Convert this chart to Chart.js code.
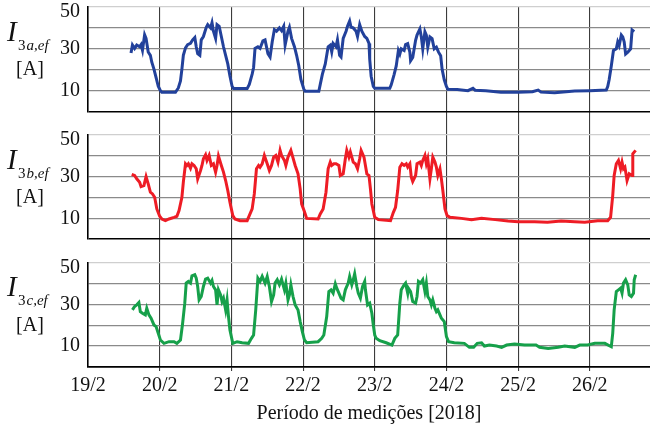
<!DOCTYPE html>
<html>
<head>
<meta charset="utf-8">
<script src="https://cdn.jsdelivr.net/npm/chart.js@4/dist/chart.umd.min.js"></script>
<style>
  html, body { margin: 0; padding: 0; background: #fff; }
  canvas { display: block; }
</style>
</head>
<body>
<canvas id="chart" width="650" height="430"></canvas>
<script>
// day 0 = 19/2
var dayLabels = ['19/2', '20/2', '21/2', '22/2', '23/2', '24/2', '25/2', '26/2'];
var yLabels = [10, 30];
var yTopLabel = 50;
var panelNames = ['3a,ef', '3b,ef', '3c,ef'];

var timeA = [0.60, 0.62, 0.65, 0.68, 0.72, 0.74, 0.76, 0.79, 0.81, 0.84, 0.87, 0.89, 0.92, 0.95, 0.98, 1.01, 1.03, 1.22, 1.26, 1.29,
    1.31, 1.33, 1.36, 1.39, 1.43, 1.46, 1.49, 1.51, 1.53, 1.56, 1.58, 1.61, 1.65, 1.67, 1.71, 1.73, 1.75, 1.78, 1.80, 1.83,
    1.86, 1.89, 1.92, 1.95, 1.98, 2.01, 2.03, 2.22, 2.25, 2.29, 2.31, 2.33, 2.37, 2.40, 2.44, 2.47, 2.51, 2.54, 2.57, 2.60,
    2.63, 2.67, 2.70, 2.73, 2.75, 2.79, 2.81, 2.84, 2.88, 2.91, 2.94, 2.97, 3.01, 3.03, 3.22, 3.24, 3.27, 3.31, 3.35, 3.38,
    3.40, 3.42, 3.46, 3.48, 3.51, 3.53, 3.56, 3.60, 3.62, 3.65, 3.67, 3.70, 3.74, 3.76, 3.79, 3.82, 3.86, 3.89, 3.92, 3.93,
    3.95, 3.98, 4.00, 4.21, 4.23, 4.27, 4.30, 4.33, 4.35, 4.37, 4.41, 4.43, 4.46, 4.49, 4.50, 4.53, 4.57, 4.59, 4.63, 4.65,
    4.67, 4.70, 4.72, 4.74, 4.77, 4.80, 4.83, 4.86, 4.89, 4.92, 4.94, 4.97, 5.00, 5.02, 5.15, 5.30, 5.37, 5.40, 5.55, 5.76,
    6.00, 6.20, 6.28, 6.32, 6.51, 6.79, 7.00, 7.23, 7.25, 7.27, 7.30, 7.33, 7.37, 7.39, 7.41, 7.44, 7.46, 7.48, 7.50, 7.53,
    7.57, 7.59, 7.62];
var curA = [28.0, 31.8, 30.2, 31.8, 31.0, 32.0, 29.3, 36.7, 35.0, 28.5, 26.9, 23.6, 20.3, 16.2, 12.1, 10.0, 9.2, 9.2, 11.3, 14.6,
    20.3, 26.9, 30.5, 32.0, 32.6, 34.3, 35.4, 31.0, 27.7, 26.9, 34.3, 35.9, 40.3, 41.6, 40.0, 42.5, 38.4, 35.0, 41.6, 40.8,
    35.9, 31.0, 26.9, 22.8, 17.0, 12.1, 11.0, 11.0, 13.0, 17.9, 21.1, 30.2, 31.0, 30.2, 33.8, 34.3, 27.7, 26.1, 33.4, 39.2,
    38.4, 40.0, 38.7, 40.8, 31.8, 38.4, 40.3, 35.0, 31.0, 26.9, 22.0, 15.4, 10.8, 9.7, 9.7, 13.0, 17.9, 22.8, 31.0, 31.8,
    28.5, 32.6, 31.0, 34.3, 26.9, 26.1, 35.0, 38.4, 40.8, 43.3, 40.3, 40.0, 38.4, 35.9, 41.6, 38.4, 35.9, 35.0, 32.6, 25.0,
    16.9, 12.0, 11.1, 11.1, 12.8, 17.7, 21.8, 29.2, 27.5, 30.0, 29.2, 32.0, 32.5, 28.4, 24.3, 25.9, 34.1, 36.6, 39.5, 35.7,
    30.0, 38.2, 36.6, 30.8, 35.7, 34.9, 30.0, 30.8, 28.4, 26.7, 20.2, 15.2, 12.0, 10.7, 10.5, 10.0, 11.1, 10.2, 10.0, 9.3,
    9.3, 9.5, 10.3, 9.3, 9.0, 9.8, 10.0, 10.3, 12.0, 15.2, 21.8, 29.2, 30.0, 33.3, 31.6, 36.6, 35.7, 33.3, 27.5, 28.4,
    30.0, 39.0, 38.2];

var timeB = [0.61, 0.65, 0.68, 0.72, 0.74, 0.78, 0.81, 0.84, 0.87, 0.90, 0.93, 0.96, 1.00, 1.03, 1.08, 1.13, 1.20, 1.24, 1.27, 1.31,
    1.33, 1.36, 1.38, 1.40, 1.43, 1.45, 1.48, 1.51, 1.53, 1.57, 1.59, 1.61, 1.64, 1.66, 1.69, 1.72, 1.75, 1.78, 1.80, 1.82,
    1.86, 1.89, 1.92, 1.95, 1.98, 2.02, 2.05, 2.12, 2.22, 2.25, 2.29, 2.32, 2.35, 2.38, 2.40, 2.43, 2.46, 2.50, 2.53, 2.56,
    2.59, 2.62, 2.65, 2.68, 2.70, 2.74, 2.76, 2.79, 2.83, 2.85, 2.89, 2.93, 2.96, 2.98, 3.02, 3.05, 3.21, 3.24, 3.28, 3.32,
    3.35, 3.38, 3.40, 3.43, 3.46, 3.50, 3.52, 3.56, 3.59, 3.61, 3.64, 3.66, 3.70, 3.73, 3.76, 3.79, 3.81, 3.85, 3.89, 3.92,
    3.94, 3.96, 4.00, 4.05, 4.22, 4.26, 4.29, 4.32, 4.35, 4.38, 4.41, 4.44, 4.46, 4.49, 4.51, 4.53, 4.57, 4.59, 4.63, 4.65,
    4.67, 4.70, 4.72, 4.74, 4.77, 4.79, 4.81, 4.84, 4.86, 4.88, 4.91, 4.93, 4.95, 4.98, 5.01, 5.05, 5.21, 5.35, 5.49, 5.68,
    5.86, 6.00, 6.23, 6.41, 6.60, 6.79, 6.93, 7.11, 7.25, 7.29, 7.32, 7.34, 7.37, 7.40, 7.43, 7.45, 7.47, 7.49, 7.52, 7.55,
    7.59, 7.60, 7.64];
var curB = [31.0, 30.5, 28.9, 27.3, 25.2, 25.7, 30.0, 26.5, 22.5, 21.7, 20.1, 14.5, 11.0, 9.7, 8.9, 9.7, 10.5, 11.0, 13.7, 20.1,
    27.3, 36.1, 35.3, 36.1, 34.0, 36.1, 35.3, 33.7, 28.9, 32.9, 35.3, 38.5, 40.4, 37.7, 40.1, 35.3, 36.1, 32.1, 35.3, 39.8,
    35.3, 32.1, 28.1, 23.3, 17.7, 11.3, 9.7, 8.9, 8.9, 11.3, 14.5, 21.7, 33.7, 35.3, 34.5, 36.1, 40.1, 36.1, 32.9, 35.3,
    39.3, 40.1, 36.9, 42.5, 40.1, 37.7, 35.3, 39.3, 42.5, 40.1, 35.3, 31.3, 24.1, 16.9, 13.2, 10.0, 9.7, 12.1, 14.5, 22.5,
    33.7, 36.9, 35.3, 36.1, 36.1, 35.3, 30.5, 31.3, 38.5, 42.5, 39.3, 41.7, 36.9, 36.1, 33.7, 38.5, 42.5, 39.3, 31.3, 30.5,
    24.1, 16.9, 10.5, 9.4, 8.9, 12.9, 15.3, 23.3, 34.5, 36.1, 35.3, 36.1, 34.5, 36.1, 29.7, 27.6, 30.5, 36.1, 36.9, 35.3,
    37.7, 40.1, 36.1, 38.5, 28.9, 33.7, 39.3, 36.9, 34.5, 30.5, 33.7, 28.9, 23.3, 14.5, 11.3, 10.5, 10.0, 9.4, 10.0, 9.4,
    8.7, 8.4, 8.4, 8.1, 8.7, 8.4, 8.1, 8.9, 8.9, 10.5, 20.9, 30.5, 36.1, 37.7, 33.7, 36.9, 33.7, 34.5, 28.1, 31.3,
    30.5, 40.9, 42.5];

var timeC = [0.62, 0.65, 0.68, 0.71, 0.73, 0.76, 0.80, 0.82, 0.85, 0.88, 0.92, 0.95, 0.98, 1.01, 1.06, 1.13, 1.20, 1.24, 1.29, 1.32,
    1.35, 1.37, 1.40, 1.43, 1.45, 1.49, 1.51, 1.53, 1.55, 1.58, 1.61, 1.64, 1.67, 1.71, 1.73, 1.75, 1.78, 1.80, 1.82, 1.85,
    1.87, 1.89, 1.92, 1.94, 1.96, 1.98, 2.02, 2.08, 2.15, 2.24, 2.28, 2.31, 2.34, 2.37, 2.40, 2.43, 2.47, 2.50, 2.53, 2.56,
    2.59, 2.61, 2.64, 2.67, 2.70, 2.74, 2.76, 2.79, 2.81, 2.83, 2.86, 2.89, 2.93, 2.96, 2.99, 3.02, 3.05, 3.21, 3.26, 3.29,
    3.33, 3.36, 3.39, 3.42, 3.45, 3.47, 3.50, 3.53, 3.56, 3.59, 3.63, 3.65, 3.68, 3.70, 3.72, 3.75, 3.77, 3.80, 3.83, 3.86,
    3.87, 3.90, 3.93, 3.96, 3.98, 4.00, 4.02, 4.07, 4.16, 4.24, 4.28, 4.32, 4.35, 4.37, 4.41, 4.43, 4.46, 4.47, 4.50, 4.53,
    4.57, 4.59, 4.61, 4.64, 4.67, 4.70, 4.72, 4.74, 4.77, 4.79, 4.81, 4.84, 4.86, 4.88, 4.91, 4.93, 4.97, 5.00, 5.03, 5.11,
    5.25, 5.32, 5.38, 5.43, 5.49, 5.53, 5.60, 5.70, 5.77, 5.84, 5.95, 6.09, 6.25, 6.30, 6.42, 6.56, 6.65, 6.79, 6.86, 6.97,
    7.07, 7.21, 7.30, 7.32, 7.34, 7.37, 7.40, 7.43, 7.45, 7.47, 7.50, 7.53, 7.55, 7.58, 7.61, 7.62, 7.64];
var curC = [27.3, 28.9, 29.7, 30.8, 26.5, 25.7, 24.9, 28.1, 24.9, 23.3, 20.1, 19.3, 16.1, 12.9, 11.3, 12.1, 12.1, 11.3, 12.9, 20.9,
    30.5, 40.1, 40.9, 40.1, 43.6, 44.1, 42.5, 38.5, 32.1, 33.7, 38.5, 42.0, 42.5, 40.1, 41.4, 38.5, 36.9, 29.7, 36.9, 34.5,
    31.3, 32.9, 27.3, 32.1, 24.1, 17.7, 11.3, 12.1, 11.6, 11.3, 13.7, 15.3, 27.3, 42.5, 40.9, 43.3, 40.1, 43.3, 38.5, 31.3,
    34.5, 40.1, 41.7, 39.3, 42.0, 36.9, 40.1, 32.1, 34.5, 39.3, 33.7, 29.7, 27.3, 21.7, 16.9, 12.9, 11.6, 12.1, 13.7, 15.3,
    24.1, 36.1, 36.9, 35.3, 39.8, 37.7, 35.3, 32.9, 32.1, 36.9, 40.1, 43.3, 39.3, 41.7, 44.6, 38.5, 35.3, 32.9, 38.5, 40.9,
    36.9, 29.7, 30.5, 25.7, 20.1, 15.3, 13.7, 12.6, 11.6, 10.5, 13.7, 15.3, 30.5, 36.9, 39.3, 40.1, 35.3, 37.7, 36.1, 31.3,
    30.5, 33.7, 40.9, 40.1, 41.7, 36.1, 40.1, 33.7, 32.1, 29.7, 32.1, 28.1, 26.5, 27.3, 24.9, 23.3, 21.7, 14.5, 12.1, 11.6,
    11.3, 9.4, 9.4, 11.3, 11.6, 10.0, 10.5, 10.0, 9.4, 10.5, 11.0, 10.5, 10.5, 9.4, 8.9, 9.4, 10.0, 9.4, 10.5, 10.5,
    11.3, 11.3, 9.7, 16.1, 27.3, 36.1, 36.9, 37.7, 35.3, 40.1, 41.7, 39.3, 34.5, 33.7, 35.3, 41.7, 44.1];

var FONT = '"Liberation Serif", "DejaVu Serif", serif';

function toPoints(times, values) {
    return times.map(function (t, i) {
        return { x: t, y: values[i] };
    });
}

function lineDataset(times, values, color, axis) {
    return {
        data: toPoints(times, values),
        borderColor: color,
        borderWidth: 3,
        pointRadius: 0,
        tension: 0,
        fill: false,
        yAxisID: axis,
    };
}

function noPad(scale) {
    scale.paddingTop = 0;
    scale.paddingBottom = 0;
}

function panelAxis(order) {
    return {
        type: 'linear',
        position: 'left',
        stack: 'panels',
        stackWeight: 104,
        weight: order,
        min: 0,
        max: 50,
        afterFit: function (scale) {
            scale.width = 88;
            noPad(scale);
        },
        border: { display: true, color: '#000', width: 1.6 },
        grid: {
            drawTicks: false,
            color: function (c) {
                if (c.tick.value === 0) return '#000';
                if (c.tick.value === 50) return '#cfcfcf';
                return '#8a8a8a';
            },
            lineWidth: function (c) { return c.tick.value === 0 ? 1.6 : 1.3; },
        },
        ticks: {
            stepSize: 10,
            autoSkip: false,
            padding: 8,
            color: '#111',
            font: { family: FONT, size: 20 },
            callback: function (v) { return yLabels.indexOf(v) >= 0 ? String(v) : ''; },
        },
    };
}

function gapAxis(order) {
    return {
        type: 'linear',
        position: 'left',
        stack: 'panels',
        stackWeight: 23,
        weight: order,
        min: 0,
        max: 1,
        afterFit: noPad,
        border: { display: false },
        grid: { display: false, drawTicks: false },
        ticks: { display: false },
    };
}

// axis names and the top "50" label, which sits a little under its grid line
var panelLabels = {
    id: 'panelLabels',
    afterDraw: function (chart) {
        var ctx = chart.ctx;
        ['yA', 'yB', 'yC'].forEach(function (id, i) {
            var scale = chart.scales[id];
            var top = scale.top;
            ctx.save();
            ctx.fillStyle = '#111';
            ctx.font = '20px ' + FONT;
            ctx.textAlign = 'right';
            ctx.textBaseline = 'middle';
            ctx.fillText(String(yTopLabel), scale.right - 8, scale.getPixelForValue(yTopLabel) + 5);

            ctx.textAlign = 'left';
            ctx.textBaseline = 'alphabetic';
            ctx.font = 'italic 29px ' + FONT;
            ctx.fillText('I', 7, top + 34);
            ctx.font = '15px ' + FONT;
            ctx.fillText(panelNames[i].charAt(0), 18, top + 43);
            var w = ctx.measureText(panelNames[i].charAt(0)).width;
            ctx.font = 'italic 15px ' + FONT;
            ctx.fillText(panelNames[i].slice(1), 18 + w + 1, top + 43);
            ctx.font = '20px ' + FONT;
            ctx.textAlign = 'center';
            ctx.textBaseline = 'middle';
            ctx.fillText('[A]', 30, top + 63);
            ctx.restore();
        });
    },
};

new Chart(document.getElementById('chart'), {
    type: 'line',
    data: {
        datasets: [
            lineDataset(timeA, curA, '#22419b', 'yA'),
            lineDataset(timeB, curB, '#ee1c25', 'yB'),
            lineDataset(timeC, curC, '#16a04a', 'yC'),
        ],
    },
    options: {
        responsive: false,
        animation: false,
        layout: { padding: { top: 7, right: 0, bottom: 2, left: 0 } },
        plugins: { legend: { display: false }, tooltip: { enabled: false } },
        scales: {
            x: {
                type: 'linear',
                position: 'bottom',
                min: 0,
                max: 7.84,
                border: { display: true, color: '#000', width: 1.6 },
                grid: {
                    tickLength: 4,
                    color: function (c) { return c.tick.value === 0 ? 'rgba(0,0,0,0)' : '#3c3c3c'; },
                    lineWidth: 1.1,
                },
                ticks: {
                    stepSize: 1,
                    includeBounds: false,
                    autoSkip: false,
                    maxRotation: 0,
                    padding: 3,
                    color: '#111',
                    font: { family: FONT, size: 20 },
                    callback: function (v) { return dayLabels[v] !== undefined ? dayLabels[v] : ''; },
                },
                title: {
                    display: true,
                    text: 'Período de medições [2018]',
                    color: '#111',
                    font: { family: FONT, size: 20 },
                    padding: { top: 1, bottom: 2 },
                },
            },
            yA: panelAxis(5),
            gapA: gapAxis(4),
            yB: panelAxis(3),
            gapB: gapAxis(2),
            yC: panelAxis(1),
        },
    },
    plugins: [panelLabels],
});
</script>
</body>
</html>
